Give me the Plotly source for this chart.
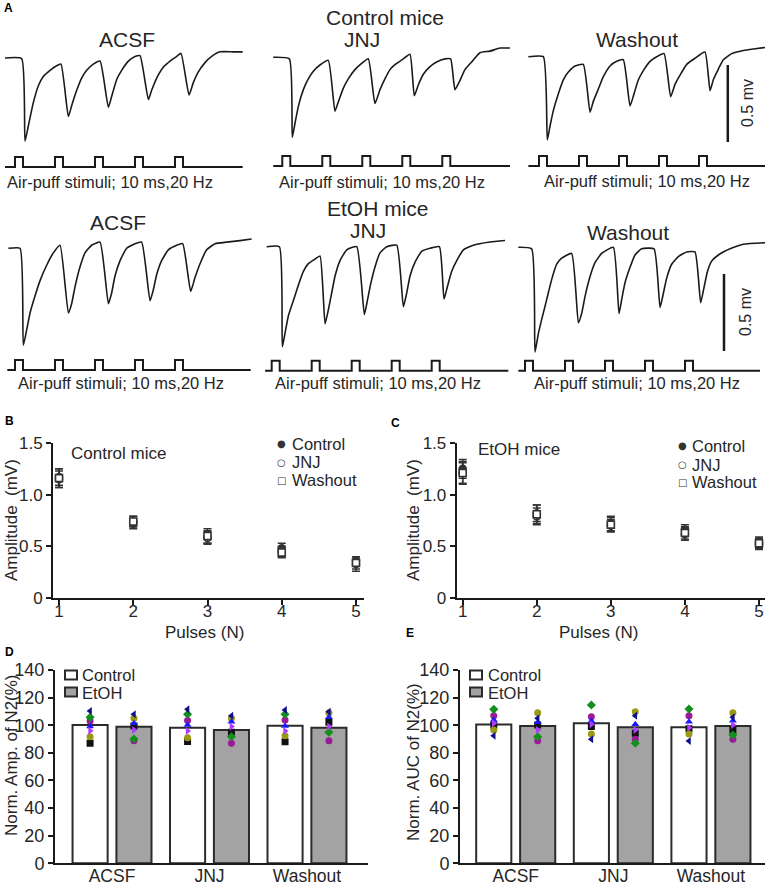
import plotly.graph_objects as go

W, H = 770, 886
FONT = "Liberation Sans, Arial, sans-serif"
TXT = "#262626"
INK = "#1a1a1a"

# ---------------- Panel A: example traces (t in ms after first puff, amplitude in mV) ----------
ctl_acsf = [(-12.5, 0), (8.3, -0.004), (12.5, -0.54), (16.7, -0.44), (22.9, -0.29), (29.2, -0.18),
            (35.4, -0.12), (43.8, -0.08), (52.1, -0.05), (57.5, -0.04), (66.7, -0.38), (70.8, -0.31),
            (77.1, -0.21), (83.3, -0.13), (89.6, -0.08), (97.9, -0.04), (106.3, -0.02), (116.7, -0.32),
            (120.8, -0.25), (127.1, -0.14), (133.3, -0.08), (141.7, -0.02), (150, 0.01), (156.3, 0.015),
            (166.7, -0.27), (170.8, -0.21), (177.1, -0.13), (185.4, -0.06), (193.8, -0.02), (202.1, 0.01),
            (207.5, 0.03), (217.5, -0.24), (222.9, -0.16), (229.2, -0.09), (237.5, -0.03), (245.8, 0.01),
            (256.3, 0.04), (272.9, 0.04), (284.6, 0.04)]
ctl_jnj = [(-11.3, 0), (8.8, -0.01), (12.5, -0.52), (15.8, -0.43), (20, -0.32), (26.3, -0.21),
           (32.5, -0.14), (38.8, -0.09), (47.1, -0.05), (57.5, -0.02), (65.8, -0.35), (70, -0.29),
           (76.3, -0.20), (82.5, -0.14), (90.8, -0.08), (99.2, -0.04), (107.5, -0.01), (115.8, -0.30),
           (122.1, -0.21), (128.3, -0.14), (134.6, -0.08), (142.9, -0.04), (151.3, -0.01), (159.6, 0.02),
           (165, -0.25), (170, -0.18), (176.3, -0.11), (184.6, -0.06), (192.9, -0.03), (203.3, -0.01),
           (210.4, -0.01), (215.8, -0.21), (222.1, -0.15), (228.3, -0.08), (236.7, -0.03), (247.1, 0.03),
           (259.6, 0.04), (272.1, 0.06), (284.6, 0.06)]
ctl_wash = [(-13.3, 0), (5.4, 0), (10.4, -0.54), (13.8, -0.45), (17.9, -0.35), (24.2, -0.24),
            (30.4, -0.15), (36.7, -0.10), (45, -0.06), (55.4, -0.05), (63.8, -0.36), (67.9, -0.29),
            (74.2, -0.21), (80.4, -0.13), (88.8, -0.06), (97.1, -0.03), (105.4, -0.02), (113.8, -0.32),
            (118.8, -0.24), (124.2, -0.15), (130.4, -0.09), (138.8, -0.03), (147.1, 0.0), (156.3, 0.02),
            (164.6, -0.26), (170, -0.18), (176.3, -0.12), (184.6, -0.05), (195, -0.01), (207.5, 0.03),
            (213.8, -0.22), (217.9, -0.15), (224.2, -0.08), (230.4, -0.02), (240.8, 0.02), (255.4, 0.04),
            (267.9, 0.05), (282.5, 0.06)]
etoh_acsf = [(-8.3, 0), (6.3, 0), (10.4, -0.63), (14.6, -0.53), (18.8, -0.42), (25, -0.31),
             (31.3, -0.21), (39.6, -0.11), (47.9, -0.03), (56.3, 0.02), (66.7, -0.42), (70.8, -0.36),
             (75, -0.25), (81.3, -0.12), (87.5, -0.03), (95.8, 0.02), (106.3, 0.04), (116.7, -0.36),
             (120.8, -0.29), (125, -0.18), (131.3, -0.08), (139.6, 0), (150, 0.03), (158.3, 0.04),
             (168.8, -0.34), (172.9, -0.27), (177.1, -0.17), (183.3, -0.08), (191.7, -0.01), (202.1, 0.02),
             (209.6, 0.03), (219.6, -0.28), (225, -0.19), (231.3, -0.10), (239.6, -0.01), (250, 0.03),
             (264.6, 0.04), (281.3, 0.05), (295.8, 0.06)]
etoh_jnj = [(-6.3, 0), (9.6, 0), (13.3, -0.65), (16.7, -0.56), (20.8, -0.45), (27.1, -0.35),
            (33.3, -0.25), (39.6, -0.16), (45.8, -0.11), (54.2, -0.08), (60.4, -0.06), (66.7, -0.50),
            (70.8, -0.41), (75, -0.30), (79.2, -0.19), (85.4, -0.09), (93.8, -0.02), (106.3, 0),
            (115.8, -0.44), (119.6, -0.35), (123.8, -0.24), (129.2, -0.13), (135.4, -0.04), (143.8, 0),
            (156.3, 0.01), (164.6, -0.39), (168.8, -0.30), (172.9, -0.19), (179.2, -0.10), (187.5, -0.03),
            (197.9, -0.01), (209.6, 0), (215.4, -0.34), (219.6, -0.26), (225, -0.16), (231.3, -0.09),
            (239.6, -0.02), (252.1, 0.01), (272.9, 0.03), (291.7, 0.04)]
etoh_wash = [(-8.3, 0), (8.3, -0.01), (12.5, -0.68), (16.7, -0.56), (20.8, -0.47), (27.1, -0.34),
             (33.3, -0.21), (39.6, -0.11), (45.8, -0.07), (58.3, -0.04), (66.7, -0.49), (70.8, -0.43),
             (75, -0.32), (81.3, -0.19), (87.5, -0.10), (95.8, -0.04), (110.4, 0), (117.5, -0.43),
             (120.8, -0.34), (125, -0.23), (131.3, -0.13), (137.5, -0.05), (145.8, -0.01), (161.3, -0.01),
             (168.8, -0.39), (172.9, -0.30), (177.1, -0.20), (183.3, -0.11), (191.7, -0.06), (202.1, -0.03),
             (212.5, -0.03), (219.6, -0.36), (223.8, -0.26), (227.9, -0.16), (233.3, -0.09), (241.7, -0.05),
             (256.3, -0.01), (272.9, 0.02), (300, 0.03)]

pulse_onsets_ms = [0, 50, 100, 150, 200]
pulse_width_ms = 10
stim_spans_ms = [(-12.5, 284.6), (-11.3, 284.6), (-13.3, 282.5),
                 (-9.6, 294.6), (-8.3, 295.8), (-8.3, 293.8)]
trace_titles = ["ACSF", "JNJ", "Washout", "ACSF", "JNJ", "Washout"]
scale_bar_mv = 0.5

# ---------------- Panels B, C: amplitude vs pulse number ----------------
pulses = [1, 2, 3, 4, 5]
b_ctl = [1.15, 0.72, 0.59, 0.48, 0.36]
b_ctl_err = [0.08, 0.05, 0.06, 0.05, 0.04]
b_jnj = [1.17, 0.74, 0.58, 0.45, 0.33]
b_jnj_err = [0.08, 0.05, 0.06, 0.05, 0.07]
b_wash = [1.16, 0.74, 0.60, 0.44, 0.34]
b_wash_err = [0.09, 0.05, 0.07, 0.05, 0.06]

c_ctl = [1.25, 0.82, 0.72, 0.66, 0.54]
c_ctl_err = [0.09, 0.08, 0.07, 0.05, 0.05]
c_jnj = [1.21, 0.79, 0.70, 0.62, 0.52]
c_jnj_err = [0.11, 0.08, 0.06, 0.06, 0.05]
c_wash = [1.21, 0.81, 0.71, 0.63, 0.53]
c_wash_err = [0.10, 0.09, 0.07, 0.06, 0.05]

# ---------------- Panels D, E: normalized N2 ----------------
conditions = ["ACSF", "JNJ", "Washout"]
d_ctl_mean = [100.2, 98.2, 99.6]
d_etoh_mean = [98.9, 96.5, 98.2]
e_ctl_mean = [100.6, 101.4, 98.5]
e_etoh_mean = [99.4, 98.5, 99.4]

animals = ["black", "olive", "purple", "green", "blue", "violet", "navy"]
animal_color = {"black": "#111111", "olive": "#9a9a12", "purple": "#9a1a9a", "green": "#12901e",
                "blue": "#1a1aff", "violet": "#b03cff", "navy": "#10108a"}
animal_symbol = {"black": "square", "olive": "circle", "purple": "circle", "green": "diamond",
                 "blue": "triangle-up", "violet": "triangle-right", "navy": "triangle-left"}

d_ctl_pts = {"black": [86.9, 88.3, 88.1], "olive": [91.7, 91.0, 92.4], "purple": [103.0, 103.5, 103.8],
             "green": [105.7, 107.9, 107.9], "blue": [99.0, 100.2, 99.4], "violet": [96.0, 95.8, 95.8],
             "navy": [110.3, 111.5, 111.0]}
d_etoh_pts = {"black": [99.4, 94.9, 102.1], "olive": [105.0, 105.0, 109.1], "purple": [88.8, 86.9, 88.8],
              "green": [90.0, 91.7, 94.9], "blue": [101.4, 102.6, 105.7], "violet": [96.5, 99.0, 99.0],
              "navy": [107.9, 106.9, 109.8]}
e_ctl_pts = {"black": [100.0, 99.0, 97.5], "olive": [96.5, 93.7, 93.7], "purple": [106.9, 106.2, 106.9],
             "green": [111.5, 114.7, 111.8], "blue": [103.8, 103.1, 102.6], "violet": [101.4, 100.7, 98.2],
             "navy": [92.4, 89.8, 88.6]}
e_etoh_pts = {"black": [100.2, 94.1, 96.5], "olive": [109.1, 109.8, 109.1], "purple": [88.8, 89.8, 89.8],
              "green": [91.7, 86.9, 92.9], "blue": [102.1, 100.7, 103.3], "violet": [96.5, 96.5, 100.2],
              "navy": [105.0, 106.9, 105.7]}


# ---------------- helpers for layout (pixel -> paper) ----------------
def xdom(a, b):
    return [max(0, a / W), min(1, b / W)]


def ydom(top, bottom):
    return [max(0, 1 - bottom / H), min(1, 1 - top / H)]


annotations = []
shapes = []


def ann(text, x, y, size, xanchor="center", yanchor="middle", bold=False, angle=0, color=TXT, family=FONT):
    annotations.append(dict(text=f"<b>{text}</b>" if bold else text, x=x / W, y=1 - y / H,
                            xref="paper", yref="paper", showarrow=False, xanchor=xanchor,
                            yanchor=yanchor, textangle=angle, borderpad=0,
                            font=dict(size=size, color=color, family=family)))


fig = go.Figure()
layout = {}

# ---------------- Panel A ----------------
PX_MS = 0.8
PX_MV = 154.0
# (first-puff pixel x, trace baseline y, stimulus baseline y, right time limit)
a_panels = [(15, 58, 167, 290), (282.3, 57.3, 166, 290), (539, 56.7, 166, 285),
            (15, 248.3, 370, 298), (271.7, 246.7, 370.7, 298), (525, 247.3, 370.7, 300)]
traces_a = [ctl_acsf, ctl_jnj, ctl_wash, etoh_acsf, etoh_jnj, etoh_wash]
TMIN = -15
VMIN, VMAX = -0.75, 0.12

for i, ((ox, base, sy, tmax), pts) in enumerate(zip(a_panels, traces_a), start=1):
    layout[f"xaxis{i}"] = dict(domain=xdom(ox + TMIN * PX_MS, ox + tmax * PX_MS), range=[TMIN, tmax],
                               visible=False, anchor=f"y{i}", automargin=False)
    layout[f"yaxis{i}"] = dict(domain=ydom(base - VMAX * PX_MV, base - VMIN * PX_MV),
                               range=[VMIN, VMAX], visible=False, anchor=f"x{i}", automargin=False)
    layout[f"yaxis{i + 6}"] = dict(domain=ydom(sy - 12, sy + 2), range=[-0.2, 1.2],
                                   visible=False, anchor=f"x{i}", automargin=False)
    t, v = zip(*pts)
    fig.add_trace(go.Scatter(x=t, y=v, mode="lines",
                             line=dict(color=INK, width=1.6, shape="spline", smoothing=0.45),
                             xaxis=f"x{i}", yaxis=f"y{i}", showlegend=False, hoverinfo="skip",
                             offsetgroup="solo"))
    t0, t1 = stim_spans_ms[i - 1]
    sx, sv = [t0], [0]
    for p in pulse_onsets_ms:
        sx += [p, p, p + pulse_width_ms, p + pulse_width_ms]
        sv += [0, 1, 1, 0]
    sx.append(t1)
    sv.append(0)
    fig.add_trace(go.Scatter(x=sx, y=sv, mode="lines", line=dict(color=INK, width=2),
                             xaxis=f"x{i}", yaxis=f"y{i + 6}", showlegend=False, hoverinfo="skip",
                             offsetgroup="solo"))

# scale bars (0.5 mV) drawn in the washout panels' data coordinates
for ax, tpos, vtop in [(3, 236, -0.054), (6, 248.75, -0.173)]:
    shapes.append(dict(type="line", xref=f"x{ax}", yref=f"y{ax}", x0=tpos, x1=tpos,
                       y0=vtop, y1=vtop - scale_bar_mv, line=dict(color=INK, width=2.5)))
ann("0.5 mv", 747, 103, 16, angle=-90)
ann("0.5 mv", 745, 312, 16, angle=-90)

ann("A", 3, 8, 12, xanchor="left", bold=True, color="#000")
ann("Control mice", 385, 17, 21)
ann("EtOH mice", 378, 208, 21)
title_pos = [(127, 40), (362, 40), (637, 39), (118, 223), (368, 230), (628, 232)]
for txt, (x, y) in zip(trace_titles, title_pos):
    ann(txt, x, y, 21)
for x, y in [(110, 182), (382, 182), (647, 181), (121, 383), (378, 383), (637, 383)]:
    ann("Air-puff stimuli; 10 ms,20 Hz", x, y, 16.5)

# ---------------- Panels B & C ----------------
axis_style = dict(showline=True, linecolor=INK, linewidth=2, ticks="outside", ticklen=5,
                  tickwidth=2, tickcolor=INK, showgrid=False, zeroline=False, automargin=False,
                  tickfont=dict(size=17, color=TXT, family=FONT))


def add_pulse_panel(n, xd, series):
    layout[f"xaxis{n}"] = dict(domain=xdom(*xd[0]), range=xd[1], tickvals=pulses,
                               anchor=f"y{n + 6}", ticklabelstandoff=-8, **axis_style)
    layout[f"yaxis{n + 6}"] = dict(domain=ydom(443, 598), range=[0, 1.5], tickvals=[0, 0.5, 1.0, 1.5],
                                   ticktext=["0", "0.5", "1.0", "1.5"], anchor=f"x{n}", **axis_style)
    for (vals, errs, sym, fill) in series:
        fig.add_trace(go.Scatter(
            x=pulses, y=vals, mode="markers", xaxis=f"x{n}", yaxis=f"y{n + 6}", showlegend=False,
            offsetgroup="solo",
            marker=dict(symbol=sym, size=7, color=fill, line=dict(color="#333333", width=1.6)),
            error_y=dict(type="data", array=errs, color="#333333", thickness=1.5, width=4)))


add_pulse_panel(7, ((53, 364), [0.919, 5.108]),
                [(b_ctl, b_ctl_err, "circle", "#333333"), (b_jnj, b_jnj_err, "circle", "white"),
                 (b_wash, b_wash_err, "square", "white")])
add_pulse_panel(8, ((456.7, 765), [0.919, 5.081]),
                [(c_ctl, c_ctl_err, "circle", "#333333"), (c_jnj, c_jnj_err, "circle", "white"),
                 (c_wash, c_wash_err, "square", "white")])

ann("B", 4, 421, 12, xanchor="left", bold=True, color="#000")
ann("C", 390, 423, 12, xanchor="left", bold=True, color="#000")
ann("Control mice", 70, 453, 17, xanchor="left")
ann("EtOH mice", 477, 449, 17, xanchor="left")
ann("Pulses (N)", 205, 632, 17)
ann("Pulses (N)", 598, 632, 17)
ann("Amplitude  (mV)", 11, 520, 17, angle=-90)
ann("Amplitude  (mV)", 413, 520, 17, angle=-90)
for (sx, tx, ys) in [(281.7, 291, (443.5, 462, 480)), (682.7, 691, (446, 464.5, 482.5))]:
    for sym, txt, y in zip(["●", "○", "□"], ["Control", "JNJ", "Washout"], ys):
        ann(sym, sx, y, 10, color="#333333", family="DejaVu Sans")
        ann(txt, tx, y, 16.5, xanchor="left")


# ---------------- Panels D & E ----------------
def add_bar_panel(n, xd, xr, ctl_mean, etoh_mean, ctl_pts, etoh_pts):
    layout[f"xaxis{n}"] = dict(domain=xdom(*xd), range=xr, type="category", anchor=f"y{n + 6}",
                               ticklabelstandoff=-4,
                               **{**axis_style, "ticks": "", "tickfont": dict(size=17.5, color=TXT, family=FONT)})
    layout[f"yaxis{n + 6}"] = dict(domain=ydom(670, 863.3), range=[0, 140],
                                   tickvals=list(range(0, 141, 20)), anchor=f"x{n}",
                                   **{**axis_style, "tickfont": dict(size=18, color=TXT, family=FONT)})
    for name, means, fill in [("ctl", ctl_mean, "white"), ("etoh", etoh_mean, "#a3a3a3")]:
        fig.add_trace(go.Bar(x=conditions, y=means, xaxis=f"x{n}", yaxis=f"y{n + 6}",
                             offsetgroup=name, alignmentgroup=f"g{n}", showlegend=False,
                             marker=dict(color=fill, line=dict(color="#2b2b2b", width=2))))
    for name, pts in [("ctl", ctl_pts), ("etoh", etoh_pts)]:
        for a in animals:
            fig.add_trace(go.Scatter(x=conditions, y=pts[a], mode="markers", xaxis=f"x{n}",
                                     yaxis=f"y{n + 6}", offsetgroup=name, alignmentgroup=f"g{n}",
                                     orientation="v", showlegend=False,
                                     marker=dict(symbol=animal_symbol[a], size=7, color=animal_color[a],
                                                 line=dict(width=0))))


add_bar_panel(9, (55, 368), [-0.585, 2.626], d_ctl_mean, d_etoh_mean, d_ctl_pts, d_etoh_pts)
add_bar_panel(10, (460, 765), [-0.571, 2.554], e_ctl_mean, e_etoh_mean, e_ctl_pts, e_etoh_pts)

ann("D", 4, 652, 12, xanchor="left", bold=True, color="#000")
ann("E", 405, 633, 12, xanchor="left", bold=True, color="#000")
ann("Norm. Amp. of N2(%)", 11, 755, 17, angle=-90)
ann("Norm. AUC of N2(%)", 413, 762, 17, angle=-90)
for bx, tx in [(65, 81), (470, 487)]:
    for (top, fill, txt, ty) in [(670.5, "white", "Control", 675), (687.5, "#a3a3a3", "EtOH", 692.5)]:
        shapes.append(dict(type="rect", xref="paper", yref="paper", x0=bx / W, x1=(bx + 12) / W,
                           y0=1 - (top + 9) / H, y1=1 - top / H, fillcolor=fill,
                           line=dict(color="#2b2b2b", width=2)))
        ann(txt, tx, ty, 16.5, xanchor="left")

fig.update_layout(
    width=W, height=H, margin=dict(l=0, r=0, t=0, b=0, pad=0, autoexpand=False),
    paper_bgcolor="white", plot_bgcolor="rgba(0,0,0,0)",
    showlegend=False, barmode="group", bargap=0.1, bargroupgap=0.2,
    scattermode="group", scattergap=0.1,
    font=dict(family=FONT, color=TXT),
    annotations=annotations, shapes=shapes, **layout)

fig.write_html("out.html", config={"displayModeBar": False},
               post_script="document.body.style.margin='0';document.body.style.overflow='hidden';")
